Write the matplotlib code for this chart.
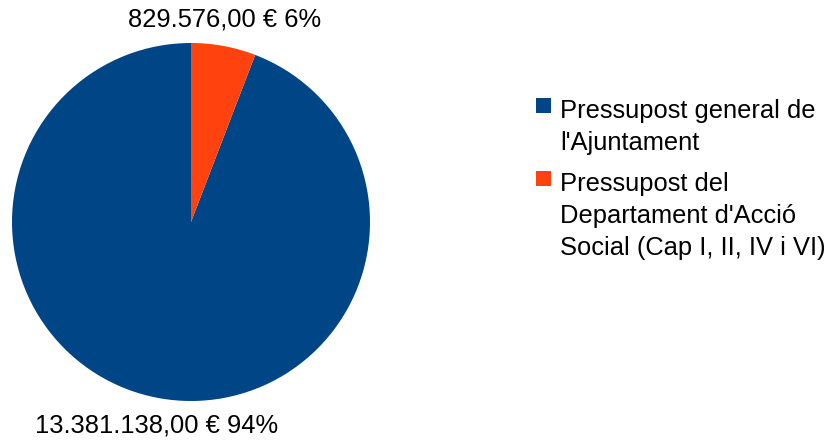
import matplotlib.pyplot as plt
from matplotlib.patches import Rectangle

plt.rcParams['font.family'] = ['Liberation Sans', 'DejaVu Sans']

labels = ["Pressupost general de\nl'Ajuntament",
          "Pressupost del\nDepartament d'Acció\nSocial (Cap I, II, IV i VI)"]
values = [13381138.00, 829576.00]
value_text = ["13.381.138,00 €", "829.576,00 €"]
colors = ['#004586', '#ff420e']

W, H = 834, 441
fig = plt.figure(figsize=(W / 100, H / 100), dpi=100)

# pie: centre (191, 222) px, radius 179 px
cx, cy, r = 191, 222, 179
ax = fig.add_axes([(cx - r) / W, (H - cy - r) / H, 2 * r / W, 2 * r / H])
wedges, _ = ax.pie(values, colors=colors, startangle=90, counterclock=True,
                   radius=1, wedgeprops=dict(linewidth=0))
ax.set_xlim(-1, 1)
ax.set_ylim(-1, 1)
ax.set_aspect('auto')
ax.axis('off')

total = sum(values)
fs = 18.4
# value labels
pos = [(157, 425), (225, 20)]
for (px, py), v, t in zip(pos, values, value_text):
    pct = round(100 * v / total)
    fig.text(px / W, 1 - py / H, f"{t} {pct}%", ha='center', va='center',
             fontsize=fs, color='black')

# legend
legend_tops = [98, 171]
for top, lab, col in zip(legend_tops, labels, colors):
    fig.patches.append(Rectangle((536 / W, 1 - (top + 15) / H), 15 / W, 15 / H,
                                 transform=fig.transFigure, facecolor=col,
                                 edgecolor='none'))
    fig.text(560 / W, 1 - (top + 1) / H, lab, ha='left', va='top',
             fontsize=fs, linespacing=1.42, color='black')

fig.savefig('out.png', dpi=100)
